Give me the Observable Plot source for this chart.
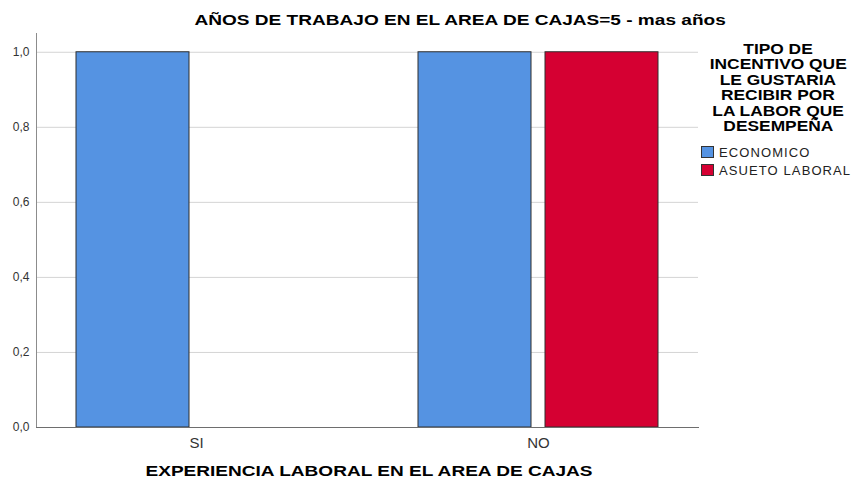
<!DOCTYPE html>
<html>
<head>
<meta charset="utf-8">
<script src="https://cdn.jsdelivr.net/npm/d3@7"></script>
<script src="https://cdn.jsdelivr.net/npm/@observablehq/plot@0.6"></script>
<style>
  body { margin: 0; background: #fff; }
  #wrap { position: relative; width: 857px; height: 481px; font-family: "Liberation Sans", Arial, sans-serif; color: #000; }
  .wide { display: inline-block; transform: scaleX(1.27); transform-origin: center; }
  #title { position: absolute; top: 11px; left: 160px; width: 600px; text-align: center; font-weight: bold; font-size: 15px; white-space: nowrap; }
  #xlabel { position: absolute; top: 462px; left: 38px; width: 662px; text-align: center; font-weight: bold; font-size: 15px; white-space: nowrap; }
  #legend { position: absolute; left: 699px; top: 42px; width: 158px; }
  #legend .ltitle { text-align: center; font-weight: bold; font-size: 14px; line-height: 15.4px; padding-left: 0px; }
  #legend .ltitle .wide { transform: scaleX(1.24); }
  #legend .item { display: flex; align-items: center; height: 18px; font-size: 13px; color: #222; letter-spacing: 1.1px; }
  #legend .sw { width: 13px; height: 12px; box-sizing: border-box; border: 1px solid #333; margin-right: 5px; margin-left: 2px; }
  #chart { position: absolute; left: 0; top: 0; }
</style>
</head>
<body>
<div id="wrap">
  <div id="chart"></div>
  <div id="title"><span class="wide">AÑOS DE TRABAJO EN EL AREA DE CAJAS=5 - mas años</span></div>
  <div id="xlabel"><span class="wide">EXPERIENCIA LABORAL EN EL AREA DE CAJAS</span></div>
  <div id="legend"></div>
</div>
<script>
// Categories on the x axis
const experiencia = ["SI", "NO"];
// Incentive types (series)
const incentivos = ["ECONOMICO", "ASUETO LABORAL"];
// Values per category, one array per series
const economico = [1.0, 1.0];
const asueto = [0.0, 1.0];
// Y tick values
const yTicks = [0, 0.2, 0.4, 0.6, 0.8, 1.0];
const colores = ["#5593e2", "#d50032"];
const legendTitle = ["TIPO DE", "INCENTIVO QUE", "LE GUSTARIA", "RECIBIR POR", "LA LABOR QUE", "DESEMPEÑA"];

const rows = experiencia.flatMap((e, i) => [
  {exp: e, tipo: incentivos[0], valor: economico[i]},
  {exp: e, tipo: incentivos[1], valor: asueto[i]}
]).filter(d => d.valor > 0);

const fmt = d => d.toFixed(1).replace(".", ",");

const chart = Plot.plot({
  width: 857,
  height: 481,
  marginLeft: 36,
  marginRight: 159,
  marginTop: 33,
  marginBottom: 54,
  style: {fontFamily: "'Liberation Sans', Arial, sans-serif", background: "#fff"},
  x: {domain: experiencia, paddingInner: 0.297, paddingOuter: 0.1137, label: null},
  y: {domain: [0, 1.05], label: null},
  color: {domain: incentivos, range: colores},
  marks: [
    Plot.gridY(yTicks, {stroke: "#d4d4d4", strokeOpacity: 1}),
    Plot.barY(rows.filter(d => d.tipo === incentivos[0]), {
      x: "exp", y: "valor", fill: "tipo", stroke: "#2e2e2e", strokeWidth: 1, insetRight: 127
    }),
    Plot.barY(rows.filter(d => d.tipo === incentivos[1]), {
      x: "exp", y: "valor", fill: "tipo", stroke: "#2e2e2e", strokeWidth: 1, insetLeft: 127
    }),
    Plot.frame({anchor: "left", stroke: "#8c8c8c"}),
    Plot.frame({anchor: "bottom", stroke: "#6e6e6e"}),
    Plot.axisY(yTicks, {tickSize: 0, tickPadding: 7, tickFormat: fmt, fontSize: 12, fill: "#333", label: null}),
    Plot.axisX({tickSize: 0, tickPadding: 10, fontSize: 15, fill: "#333", label: null})
  ]
});
document.getElementById("chart").appendChild(chart);

// Legend
const legend = document.getElementById("legend");
const lt = document.createElement("div");
lt.className = "ltitle";
lt.innerHTML = legendTitle.map(t => `<span class="wide">${t}</span>`).join("<br>");
legend.appendChild(lt);
const items = document.createElement("div");
items.style.marginTop = "9px";
incentivos.forEach((name, i) => {
  const it = document.createElement("div");
  it.className = "item";
  const sw = document.createElement("span");
  sw.className = "sw";
  sw.style.background = colores[i];
  it.appendChild(sw);
  it.appendChild(document.createTextNode(name));
  items.appendChild(it);
});
legend.appendChild(items);
</script>
</body>
</html>
